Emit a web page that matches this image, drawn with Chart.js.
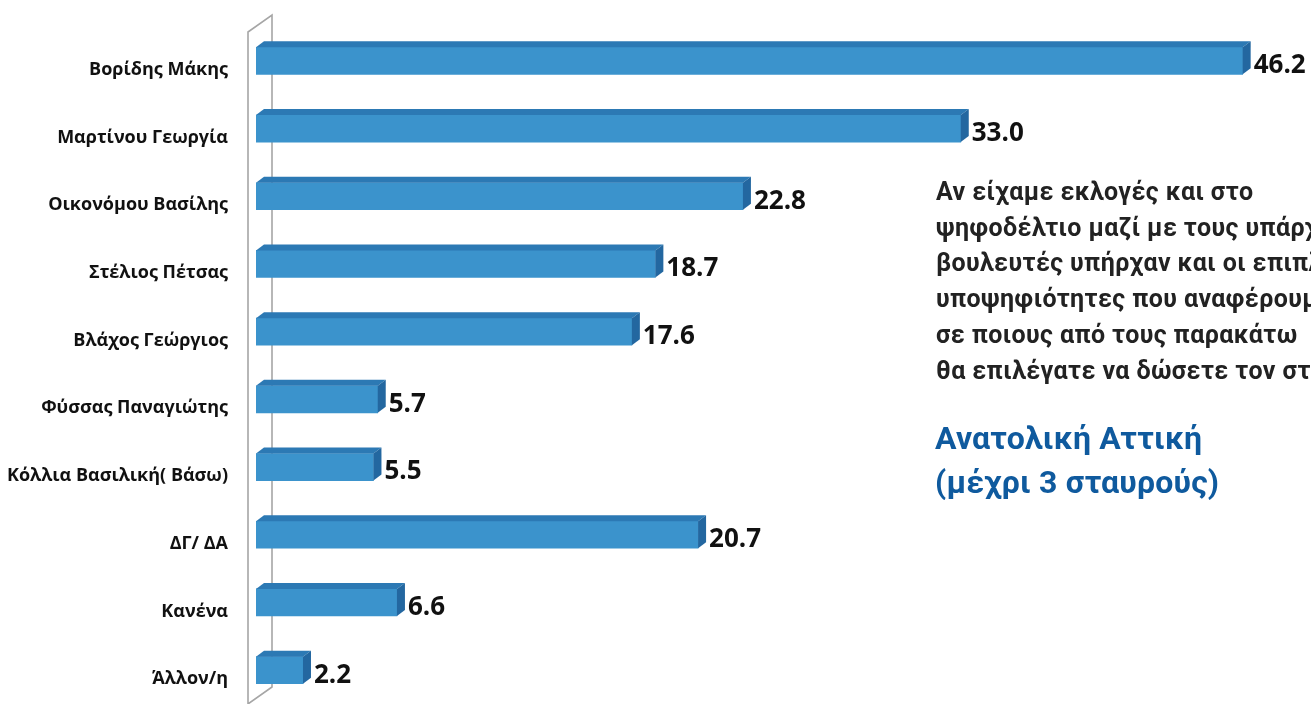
<!DOCTYPE html>
<html>
<head>
<meta charset="utf-8">
<title>Ανατολική Αττική</title>
<script src="https://cdn.jsdelivr.net/npm/chart.js@4.4.1/dist/chart.umd.min.js"></script>
<style>
    html, body {
        margin: 0;
        padding: 0;
        background: #ffffff;
        width: 1311px;
        height: 704px;
        overflow: hidden;
    }
    #wrap {
        position: relative;
        width: 1311px;
        height: 704px;
    }
    #question {
        position: absolute;
        left: 936px;
        top: 174px;
        font-family: Roboto, "Noto Sans", sans-serif;
        font-weight: 700;
        font-size: 25px;
        letter-spacing: 0.4px;
        line-height: 35.7px;
        color: #222222;
        white-space: nowrap;
    }
    #region {
        position: absolute;
        left: 935px;
        top: 416px;
        font-family: Roboto, "Noto Sans", sans-serif;
        font-weight: 700;
        font-size: 32px;
        letter-spacing: 0.2px;
        line-height: 44px;
        color: #0f5a9e;
        white-space: nowrap;
    }
</style>
</head>
<body>
<div id="wrap">
    <canvas id="chart" width="1311" height="704"></canvas>
    <div id="question">
        Αν είχαμε εκλογές και στο<br>
        ψηφοδέλτιο μαζί με τους υπάρχοντες<br>
        βουλευτές υπήρχαν και οι επιπλέον<br>
        υποψηφιότητες που αναφέρουμε<br>
        σε ποιους από τους παρακάτω<br>
        θα επιλέγατε να δώσετε τον σταυρό σας;
    </div>
    <div id="region">
        Ανατολική Αττική<br>
        (μέχρι 3 σταυρούς)
    </div>
</div>
<script>
const candidates = [
    "Βορίδης Μάκης",
    "Μαρτίνου Γεωργία",
    "Οικονόμου Βασίλης",
    "Στέλιος Πέτσας",
    "Βλάχος Γεώργιος",
    "Φύσσας Παναγιώτης",
    "Κόλλια Βασιλική( Βάσω)",
    "ΔΓ/ ΔΑ",
    "Κανένα",
    "Άλλον/η"
];
const percentages = [46.2, 33.0, 22.8, 18.7, 17.6, 5.7, 5.5, 20.7, 6.6, 2.2];

const FRONT = "#3b93cc";
const TOP = "#2c79b4";
const SIDE = "#2367a0";
const DEPTH_X = 8;
const DEPTH_Y = 6;

// 3D wall behind the bars, left of the plot
const wallPlugin = {
    id: "wall",
    beforeDatasetsDraw(chart) {
        const { ctx, chartArea } = chart;
        const front = chartArea.left - 8;
        const back = chartArea.left + 16;
        ctx.save();
        ctx.strokeStyle = "#a6a6a6";
        ctx.lineWidth = 1.6;
        ctx.beginPath();
        ctx.moveTo(front, chartArea.bottom + 2);
        ctx.lineTo(front, 32);
        ctx.lineTo(back, 15);
        ctx.lineTo(back, chartArea.bottom - 17);
        ctx.lineTo(front, chartArea.bottom);
        ctx.stroke();
        ctx.restore();
    }
};

// top and right faces of each bar, plus the value labels
const extrudePlugin = {
    id: "extrude",
    afterDatasetsDraw(chart) {
        const { ctx } = chart;
        const meta = chart.getDatasetMeta(0);
        ctx.save();
        meta.data.forEach((bar, i) => {
            const { x, y, base, height } = bar.getProps(["x", "y", "base", "height"], true);
            const top = y - height / 2;
            const bottom = y + height / 2;

            ctx.fillStyle = TOP;
            ctx.beginPath();
            ctx.moveTo(base, top);
            ctx.lineTo(base + DEPTH_X, top - DEPTH_Y);
            ctx.lineTo(x + DEPTH_X, top - DEPTH_Y);
            ctx.lineTo(x, top);
            ctx.closePath();
            ctx.fill();

            ctx.fillStyle = SIDE;
            ctx.beginPath();
            ctx.moveTo(x, top);
            ctx.lineTo(x + DEPTH_X, top - DEPTH_Y);
            ctx.lineTo(x + DEPTH_X, bottom - DEPTH_Y);
            ctx.lineTo(x, bottom);
            ctx.closePath();
            ctx.fill();

            ctx.fillStyle = "#111111";
            ctx.font = "bold 26px 'Open Sans', sans-serif";
            ctx.textAlign = "left";
            ctx.textBaseline = "middle";
            ctx.fillText(percentages[i].toFixed(1), x + 11, y + 5);
        });
        ctx.restore();
    }
};

new Chart(document.getElementById("chart"), {
    type: "bar",
    data: {
        labels: candidates,
        datasets: [{
            data: percentages,
            backgroundColor: FRONT,
            borderWidth: 0,
            barThickness: 27,
        }],
    },
    options: {
        indexAxis: "y",
        responsive: false,
        animation: false,
        layout: {
            padding: { top: 27, bottom: 0, left: 0, right: 0 },
        },
        plugins: {
            legend: { display: false },
            tooltip: { enabled: false },
        },
        scales: {
            x: {
                display: false,
                min: 0,
                max: 49.4,
            },
            y: {
                afterFit(axis) {
                    // fixed gutter for the names, no extra label padding top/bottom
                    axis.width = 256;
                    axis.paddingTop = 0;
                    axis.paddingBottom = 0;
                },
                grid: { display: false },
                border: { display: false },
                ticks: {
                    padding: 20,
                    labelOffset: 9,
                    color: "#111111",
                    font: { family: "'Open Sans', sans-serif", size: 18, weight: "bold" },
                },
            },
        },
    },
    plugins: [wallPlugin, extrudePlugin],
});
</script>
</body>
</html>
